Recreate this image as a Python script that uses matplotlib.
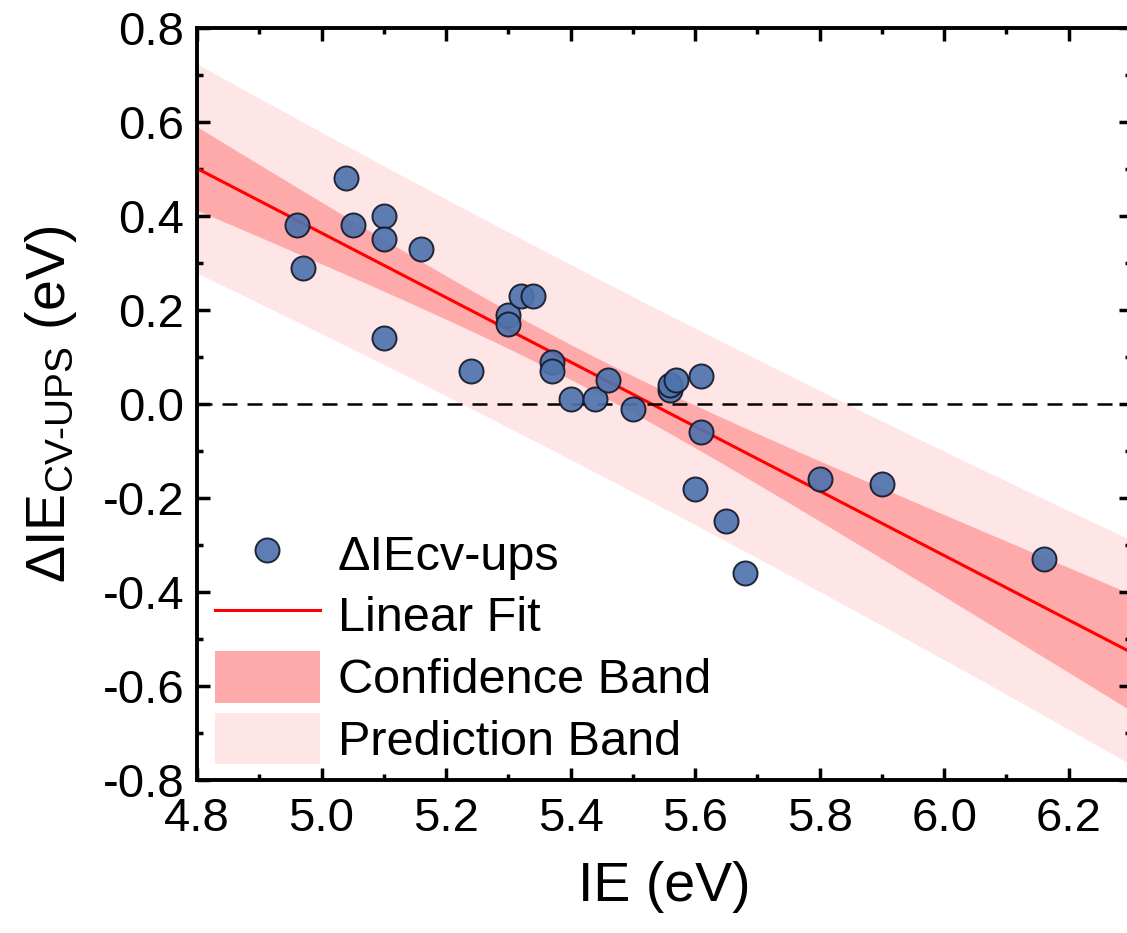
import numpy as np
import matplotlib
matplotlib.use("Agg")
import matplotlib.pyplot as plt
from matplotlib.ticker import MultipleLocator

plt.rcParams['font.family'] = ['Liberation Sans', 'DejaVu Sans']
plt.rcParams['mathtext.fontset'] = 'custom'
plt.rcParams['mathtext.rm'] = 'Liberation Sans'
plt.rcParams['mathtext.it'] = 'Liberation Sans'

# data
ie = [4.96, 4.97, 5.04, 5.05, 5.10, 5.10, 5.10, 5.16, 5.24, 5.30,
      5.30, 5.32, 5.34, 5.37, 5.37, 5.40, 5.44, 5.46, 5.50, 5.56,
      5.56, 5.57, 5.61, 5.60, 5.61, 5.65, 5.68, 5.80, 5.90, 6.16]
delta_ie = [0.38, 0.29, 0.48, 0.38, 0.40, 0.35, 0.14, 0.33, 0.07, 0.19,
            0.17, 0.23, 0.23, 0.09, 0.07, 0.01, 0.01, 0.05, -0.01, 0.03,
            0.04, 0.05, 0.06, -0.18, -0.06, -0.25, -0.36, -0.16, -0.17, -0.33]

x = np.array(ie)
y = np.array(delta_ie)
n = len(x)

# linear fit with 95% confidence / prediction bands
slope, intercept = np.polyfit(x, y, 1)
resid = y - (slope * x + intercept)
s = np.sqrt(np.sum(resid**2) / (n - 2))
t_val = 2.048  # t(0.975, df=28)
xx = np.linspace(4.8, 6.3, 200)
yy = slope * xx + intercept
sxx = np.sum((x - x.mean())**2)
conf = t_val * s * np.sqrt(1/n + (xx - x.mean())**2 / sxx)
pred = t_val * s * np.sqrt(1 + 1/n + (xx - x.mean())**2 / sxx)

fig = plt.figure(figsize=(11.27, 9.33), dpi=100)
ax = fig.add_axes([0.1748, 0.164, 0.8287, 0.806])

pb = ax.fill_between(xx, yy - pred, yy + pred, color="#ffe6e6", lw=0, label="Prediction Band")
cb = ax.fill_between(xx, yy - conf, yy + conf, color="#ffaaaa", lw=0, label="Confidence Band")
ln, = ax.plot(xx, yy, color="#ff0000", lw=2.2, label="Linear Fit")
ax.axhline(0, color="black", lw=1.8, ls=(0, (6, 4)))
sc = ax.scatter(x, y, s=300, color="#4f73ad", alpha=0.92, edgecolor="#141a2a", lw=1.4,
                zorder=5, label="ΔIEcv-ups")

ax.set_xlim(4.8, 6.3)
ax.set_ylim(-0.8, 0.8)
ax.xaxis.set_minor_locator(MultipleLocator(0.1))
ax.yaxis.set_major_locator(MultipleLocator(0.2))
ax.yaxis.set_minor_locator(MultipleLocator(0.1))
xt = np.arange(4.8, 6.21, 0.2)
ax.set_xticks(xt)
ax.set_xticklabels([f"{v:.1f}" for v in xt])
ax.set_yticklabels([f"{v:.1f}" for v in ax.get_yticks()])

ax.tick_params(which="both", direction="in", top=True, right=True, width=2.5,
               labelsize=34)
ax.tick_params(axis="x", pad=12)
ax.tick_params(axis="y", pad=9)
ax.tick_params(which="major", length=9)
ax.tick_params(which="minor", length=4.5)
for sp in ax.spines.values():
    sp.set_linewidth(2.8)

ax.set_xlabel("IE (eV)", fontsize=40, labelpad=15)
ax.set_ylabel("ΔIE$_{\\mathrm{CV‐UPS}}$ (eV)", fontsize=40, labelpad=17)

ax.legend(handles=[sc, ln, cb, pb], loc="lower left", bbox_to_anchor=(0.019, 0.02),
          frameon=False, fontsize=35, handlelength=2.16, handleheight=1.25,
          handletextpad=0.37, labelspacing=0.2, borderaxespad=0, borderpad=0)

fig.savefig("out.png", dpi=100)
